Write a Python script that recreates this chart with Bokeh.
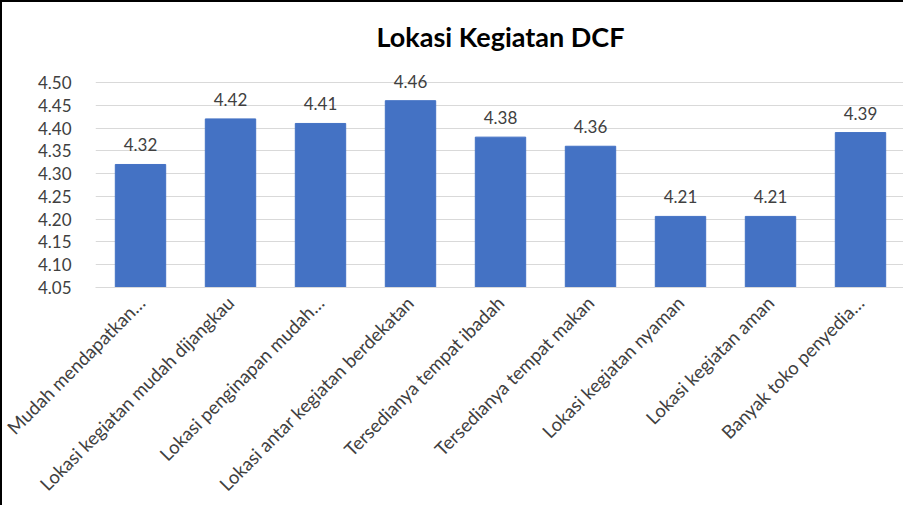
import math
from bokeh.plotting import figure
from bokeh.models import ColumnDataSource, FixedTicker, LabelSet, Range1d, NumeralTickFormatter
from bokeh.core.properties import value
from bokeh.embed import file_html
from bokeh.resources import INLINE

categories = [
    "Mudah mendapatkan…",
    "Lokasi kegiatan mudah dijangkau",
    "Lokasi penginapan mudah…",
    "Lokasi antar kegiatan berdekatan",
    "Tersedianya tempat ibadah",
    "Tersedianya tempat makan",
    "Lokasi kegiatan nyaman",
    "Lokasi kegiatan aman",
    "Banyak toko penyedia…",
]
values = [4.32, 4.42, 4.41, 4.46, 4.38, 4.36, 4.206, 4.206, 4.39]
y_ticks = [4.05, 4.10, 4.15, 4.20, 4.25, 4.30, 4.35, 4.40, 4.45, 4.50]
title_text = "Lokasi Kegiatan DCF"

FONT = "Lato"

src = ColumnDataSource(dict(
    cat=categories,
    val=values,
    lab=[f"{v:.2f}" for v in values],
))

p = figure(
    x_range=categories,
    y_range=Range1d(4.05, 4.535),
    width=903, height=505,
    output_backend="svg", toolbar_location=None,
    title=title_text,
    min_border_left=93, min_border_right=0,
    min_border_top=64, min_border_bottom=220,
)

p.vbar(x="cat", top="val", bottom=4.05, width=0.56, source=src,
       fill_color="#4472C4", line_color="#4472C4")

labels = LabelSet(x="cat", y="val", text="lab", source=src,
                  text_align="center", text_baseline="bottom", y_offset=13,
                  text_font=value(FONT), text_font_size=value("17px"),
                  text_color="#404040")
p.add_layout(labels)

p.title.align = "center"
p.title.text_font = FONT
p.title.text_font_size = "27px"
p.title.text_font_style = "bold"
p.title.text_color = "#000000"
p.title.standoff = 28

p.outline_line_color = None
p.xgrid.grid_line_color = None
p.ygrid.grid_line_color = "#d9d9d9"
p.ygrid.grid_line_width = 1

p.yaxis.ticker = FixedTicker(ticks=y_ticks)
p.yaxis.formatter = NumeralTickFormatter(format="0.00")
p.yaxis.axis_line_color = None
p.yaxis.major_tick_line_color = None
p.yaxis.minor_tick_line_color = None
p.yaxis.major_label_text_font = FONT
p.yaxis.major_label_text_font_size = "17px"
p.yaxis.major_label_text_color = "#404040"
p.yaxis.major_label_standoff = 18

p.xaxis.axis_line_color = "#d9d9d9"
p.xaxis.major_tick_line_color = None
p.xaxis.minor_tick_line_color = None
p.xaxis.major_label_orientation = math.pi / 4
p.xaxis.major_label_text_font = FONT
p.xaxis.major_label_text_font_size = "18.5px"
p.xaxis.major_label_text_color = "#404040"
p.xaxis.major_label_standoff = 6

p.styles = {"border-left": "2px solid #000000", "border-top": "2px solid #000000"}

open("out.html", "w").write(file_html(p, INLINE))
